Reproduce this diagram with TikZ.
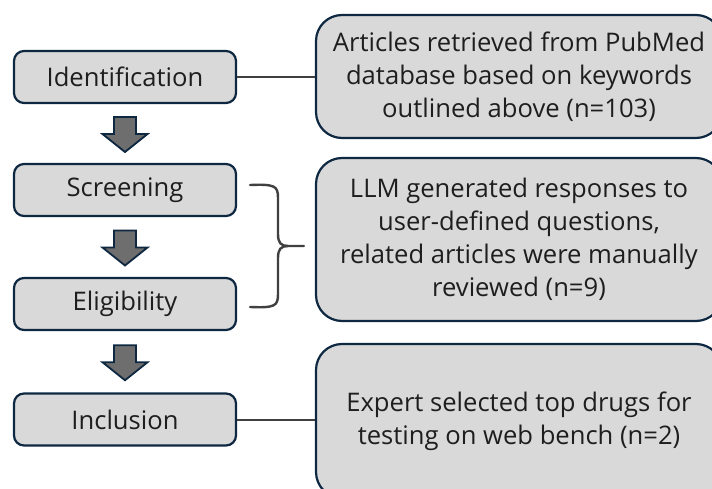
\documentclass[tikz,border=0pt]{standalone}
\usepackage{fontspec}
\setmainfont{Open Sans}
\usetikzlibrary{calc}
\definecolor{boxfill}{HTML}{D9D9D9}
\definecolor{boxedge}{HTML}{0E2841}
\definecolor{arrowfill}{HTML}{6E6E6E}
\definecolor{linkgray}{HTML}{404040}
\definecolor{txt}{HTML}{1E1E1E}
\begin{document}
\begin{tikzpicture}[x=1pt,y=-1pt,
  stage/.style={draw=boxedge, fill=boxfill, line width=2.2pt, rounded corners=10pt,
    minimum width=222pt, minimum height=52pt, inner sep=0pt, text=txt,
    font=\fontsize{25.6}{33}\selectfont},
  detail/.style={draw=boxedge, fill=boxfill, line width=2.2pt, rounded corners=26pt,
    minimum width=406pt, inner sep=0pt, text=txt, align=center,
    font=\fontsize{25.6}{33}\selectfont},
  blockarrow/.style={draw=boxedge, fill=arrowfill, line width=1.8pt, line join=miter},
  link/.style={draw=linkgray, line width=2pt},
  bracket/.style={draw=linkgray, line width=2.4pt, line cap=round}]
\useasboundingbox (0,0) rectangle (712,489);

% stage boxes on the left
\node[stage] (id)   at (125,77)    {Identification};
\node[stage] (scr)  at (125,190)   {Screening};
\node[stage] (elig) at (125,304)   {Eligibility};
\node[stage] (inc)  at (125,419.5) {Inclusion};

% description boxes on the right
\node[detail, minimum height=123pt] (r1) at (519,76.5)
  {Articles retrieved from PubMed\\database based on keywords\\outlined above (n=103)};
\node[detail, minimum height=163pt] (r2) at (519,239.5)
  {LLM generated responses to\\user-defined questions,\\related articles were manually\\reviewed (n=9)};
\node[detail, minimum height=154pt] (r3) at (519,421)
  {Expert selected top drugs for\\testing on web bench (n=2)};

% block arrows between stages
\foreach \a/\b in {id/scr, scr/elig, elig/inc} {
  \coordinate (m) at ($(\a.south)!0.5!(\b.north)+(0,1)$);
  \draw[blockarrow] ($(m)+(-11,-17.5)$) -- ($(m)+(11,-17.5)$) -- ($(m)+(11,-0.5)$)
    -- ($(m)+(22.5,-0.5)$) -- ($(m)+(0,17.5)$) -- ($(m)+(-22.5,-0.5)$)
    -- ($(m)+(-11,-0.5)$) -- cycle;
}

% connectors to the descriptions
\draw[link] (id.east) -- (id.east -| r1.west);
\draw[link] (inc.east) -- (inc.east -| r3.west);

% brace joining screening and eligibility
\coordinate (bt) at ($(scr.east)+(13,-5)$);
\coordinate (bb) at ($(elig.east)+(13,3)$);
\coordinate (tip) at ($(r2.west)+(-11,6.5)$);
\draw[bracket] (bt) .. controls ++(25,-1) and (278,186) .. (278,198) -- (278,234)
  .. controls (278,243) and (281,246) .. (288,246) -- (tip);
\draw[bracket] (bb) .. controls ++(25,1) and (278,306) .. (278,294) -- (278,258)
  .. controls (278,249) and (281,246) .. (288,246);
\end{tikzpicture}
\end{document}
